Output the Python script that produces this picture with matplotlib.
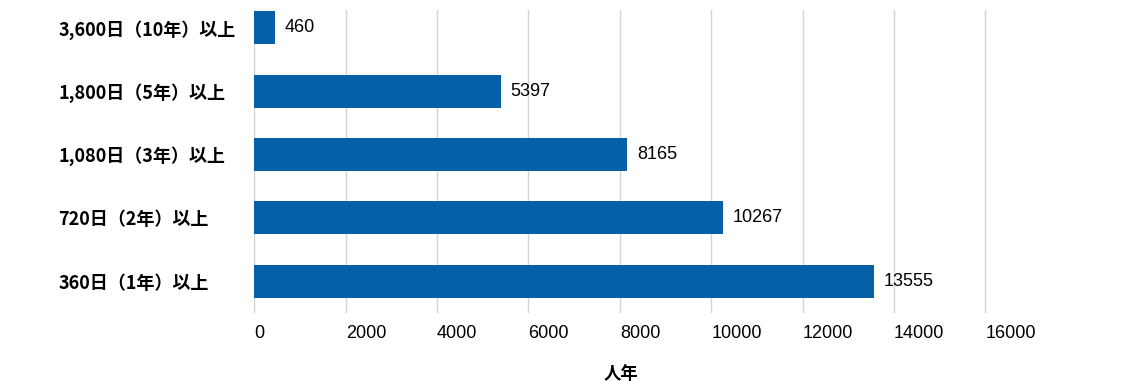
import matplotlib
matplotlib.use("Agg")
import matplotlib.pyplot as plt

plt.rcParams['font.family'] = ['Liberation Sans', 'Noto Sans CJK JP', 'DejaVu Sans']

categories = ['360日（1年）以上', '720日（2年）以上', '1,080日（3年）以上',
              '1,800日（5年）以上', '3,600日（10年）以上']
values = [13555, 10267, 8165, 5397, 460]
xticks = [0, 2000, 4000, 6000, 8000, 10000, 12000, 14000, 16000]

bar_color = '#0560A8'

fig = plt.figure(figsize=(11.34, 3.81), dpi=100)
# right edge a little past 16000 so the last gridline is not clipped
ax = fig.add_axes([0.2243, 0.1785, 0.6526, 0.7953])

ypos = range(len(categories))
bars = ax.barh(ypos, values, height=0.52, color=bar_color, zorder=3)
ax.bar_label(bars, labels=[str(v) for v in values], padding=7,
             fontsize=13, color='black')

ax.set_xlim(0, 16200)
ax.set_ylim(-0.5, 4.28)
ax.set_xticks(xticks)
ax.set_xticklabels([str(t) for t in xticks], fontsize=13, color='black')
for lab in ax.get_xticklabels():
    lab.set_ha('left')
ax.set_yticks(list(ypos))
ax.set_yticklabels(categories, fontsize=13, fontweight='bold',
                   family=['Noto Sans CJK JP'], color='black')
for lab in ax.get_yticklabels():
    lab.set_ha('left')
ax.tick_params(axis='y', length=0, pad=141.3)
ax.tick_params(axis='x', length=0, pad=9)

ax.grid(axis='x', color='#d3d3d3', linewidth=1, zorder=0)
for s in ax.spines.values():
    s.set_visible(False)

ax.set_xlabel('人年', fontsize=12.5, fontweight='bold',
              family=['Noto Sans CJK JP'], labelpad=12)
ax.xaxis.set_label_coords(0.495, -0.2, transform=ax.transAxes)
ax.xaxis.label.set_va('center')

fig.savefig('out.png', dpi=100)
